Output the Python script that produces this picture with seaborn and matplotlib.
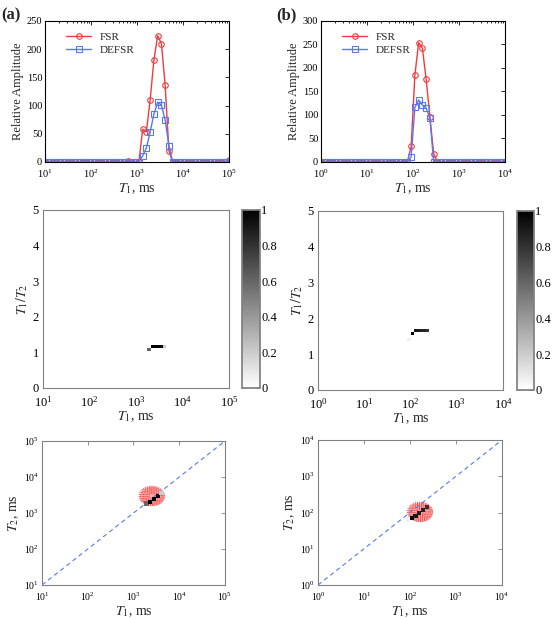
import numpy as np
import pandas as pd
import matplotlib
matplotlib.use('Agg')
import matplotlib.pyplot as plt
from matplotlib.path import Path
from matplotlib.ticker import LogLocator
import seaborn as sns

# T1 sampling grid (50 log-spaced points over 4 decades)
t1_a = np.logspace(1, 5, 50)
t1_b = np.logspace(0, 4, 50)

# 1D T1 distributions (relative amplitude)
fsr_a = [0] * 22 + [2, 0, 0, 0] + [58, 54, 110, 181, 224, 210, 136, 20] + [0] * 15 + [3]
defsr_a = [0] * 26 + [11, 25, 53, 85, 106, 101, 74, 29] + [0] * 16
fsr_b = [0] * 24 + [33, 185, 254, 242, 176, 96, 18] + [0] * 19
defsr_b = [0] * 24 + [11, 116, 132, 121, 115, 93, 0] + [0] * 19

# 2D peaks: T1 (ms), T1/T2 ratio, normalised amplitude
peak_a_t1 = [1930, 2330, 2810, 3400, 4090]
peak_a_ratio = [1.05, 1.16, 1.16, 1.16, 1.16]
peak_a_amp = [0.6, 1.0, 1.0, 0.95, 0.2]
peak_b_t1 = [91, 110, 132, 160, 193, 233]
peak_b_ratio = [1.42, 1.58, 1.67, 1.67, 1.67, 1.67]
peak_b_amp = [0.06, 1.0, 0.9, 0.88, 0.85, 0.8]

# FSR T1-T2 contour blob: centre (T1, T2) in ms
blob_a = (2500, 3000)
blob_b = (165, 105)
ring_sizes = [4, 6, 8, 10, 12, 14, 16, 18]   # ring diameters, points

ratio_grid = np.linspace(0, 5, 61)
cbar_ticks = [0, 0.2, 0.4, 0.6, 0.8, 1]

sns.set_theme(style='white')
plt.rcParams['font.family'] = ['Liberation Serif', 'DejaVu Serif']
plt.rcParams['mathtext.fontset'] = 'stix'

RED = '#f03c3c'
BLUE = '#5a78f0'
GREY = '#808080'

# slightly flattened ellipse marker for the contour rings
theta = np.linspace(0, 2 * np.pi, 60)
ellipse = Path(np.column_stack([1.3 * np.cos(theta), np.sin(theta)]), closed=True)

fig = plt.figure(figsize=(5.53, 6.19), dpi=100)


def style_axes(ax, edge, size=7.5, xpad=4):
    for s in ax.spines.values():
        s.set_color(edge)
        s.set_linewidth(0.8)
    ax.tick_params(which='both', direction='in', top=True, right=True,
                   colors=edge, labelcolor='black', labelsize=size,
                   length=3, width=0.6)
    ax.tick_params(axis='x', which='both', pad=xpad)
    ax.tick_params(axis='y', which='both', pad=2)
    ax.tick_params(which='minor', length=1.5)


def log_ticks(ax, axis='x'):
    loc = LogLocator(base=10, numticks=12)
    mloc = LogLocator(base=10, subs=np.arange(2, 10), numticks=12)
    target = ax.xaxis if axis == 'x' else ax.yaxis
    target.set_major_locator(loc)
    target.set_minor_locator(mloc)


# --- top row: 1D distributions ---
top = [
    ([0.0814, 0.7383, 0.3327, 0.2278], t1_a, fsr_a, defsr_a, (10, 1e5), 250),
    ([0.5805, 0.7383, 0.3327, 0.2278], t1_b, fsr_b, defsr_b, (1, 1e4), 300),
]
for pos, grid, fsr, defsr, xlim, ymax in top:
    ax = fig.add_axes(pos)
    df = pd.DataFrame({'T1': grid, 'FSR': fsr, 'DEFSR': defsr})
    sns.lineplot(data=df, x='T1', y='FSR', ax=ax, color=RED, lw=1,
                 marker='o', markersize=4, markerfacecolor='none',
                 markeredgecolor=RED, markeredgewidth=0.8, label='FSR')
    sns.lineplot(data=df, x='T1', y='DEFSR', ax=ax, color=BLUE, lw=1,
                 marker='s', markersize=4, markerfacecolor='none',
                 markeredgecolor=BLUE, markeredgewidth=0.8, label='DEFSR')
    ax.set_xscale('log')
    log_ticks(ax)
    ax.set_xlim(*xlim)
    ax.set_ylim(0, ymax)
    ax.set_yticks(np.arange(0, ymax + 1, 50))
    ax.set_xlabel('$T_1$, ms', fontsize=10, labelpad=1)
    ax.set_ylabel('Relative Amplitude', fontsize=9, labelpad=2)
    style_axes(ax, 'black')
    ax.legend(loc='upper left', bbox_to_anchor=(0.08, 0.97), frameon=False,
              fontsize=8, handlelength=2.2, borderaxespad=0.2,
              labelspacing=0.3)

# --- middle row: T1/T2 vs T1 maps ---
mid = [
    ([0.0778, 0.3732, 0.3363, 0.2876], [0.4376, 0.3732, 0.0325, 0.2876],
     t1_a, peak_a_t1, peak_a_ratio, peak_a_amp, (10, 1e5)),
    ([0.5750, 0.3700, 0.3345, 0.2892], [0.9349, 0.3700, 0.0307, 0.2892],
     t1_b, peak_b_t1, peak_b_ratio, peak_b_amp, (1, 1e4)),
]
for pos, cpos, grid, p_t1, p_ratio, p_amp, xlim in mid:
    ax = fig.add_axes(pos)
    cax = fig.add_axes(cpos)
    img = np.zeros((len(ratio_grid), len(grid)))
    for t, r, a in zip(p_t1, p_ratio, p_amp):
        i = np.argmin(np.abs(np.log10(grid) - np.log10(t)))
        j = np.argmin(np.abs(ratio_grid - r))
        img[j, i] = a
    mesh = ax.pcolormesh(grid, ratio_grid, img, cmap='gray_r', vmin=0, vmax=1,
                         shading='nearest')
    ax.set_xscale('log')
    log_ticks(ax)
    ax.set_xlim(*xlim)
    ax.set_ylim(0, 5)
    ax.set_yticks(range(6))
    ax.set_xlabel('$T_1$, ms', fontsize=10, labelpad=0)
    ax.set_ylabel('$T_1/T_2$', fontsize=10, labelpad=2)
    style_axes(ax, GREY, size=9, xpad=5)
    ax.tick_params(axis='y', which='both', pad=3)
    ax.tick_params(axis='y', which='minor', left=False, right=False)
    cb = fig.colorbar(mesh, cax=cax, ticks=cbar_ticks)
    cb.ax.set_yticklabels(['0', '0.2', '0.4', '0.6', '0.8', '1'])
    cb.outline.set_edgecolor(GREY)
    cb.ax.tick_params(direction='in', length=3, colors=GREY, labelcolor='black',
                      labelsize=9, pad=1, left=True, right=True)

# --- bottom row: T2 vs T1 maps ---
bot = [
    ([0.0759, 0.0549, 0.3309, 0.2326], peak_a_t1, peak_a_ratio, peak_a_amp,
     blob_a, (10, 1e5)),
    ([0.5750, 0.0549, 0.3327, 0.2342], peak_b_t1, peak_b_ratio, peak_b_amp,
     blob_b, (1, 1e4)),
]
for pos, p_t1, p_ratio, p_amp, blob, lim in bot:
    ax = fig.add_axes(pos)
    ax.set_xscale('log')
    ax.set_yscale('log')
    rings = pd.DataFrame({'T1': [blob[0]] * len(ring_sizes),
                          'T2': [blob[1]] * len(ring_sizes),
                          'size': [d ** 2 for d in ring_sizes]})
    # pale fill under the rings
    ax.scatter([blob[0]], [blob[1]], s=max(ring_sizes) ** 2, marker=ellipse,
               color='#ffb0b0', linewidths=0, zorder=1)
    ax.scatter(rings['T1'], rings['T2'], s=rings['size'], marker=ellipse,
               facecolors='none', edgecolors=RED, linewidths=0.7,
               linestyle=(0, (1, 1)), zorder=2)
    sns.lineplot(x=list(lim), y=list(lim), ax=ax, color=BLUE, lw=0.8,
                 linestyle=(0, (4, 3)), zorder=3)
    pk = pd.DataFrame({'T1': p_t1, 'T2': np.array(p_t1) / np.array(p_ratio),
                       'amp': p_amp})
    sns.scatterplot(data=pk, x='T1', y='T2', hue='amp', palette='gray_r',
                    hue_norm=(0, 1), marker='s', s=9, linewidth=0,
                    legend=False, ax=ax, zorder=4)
    log_ticks(ax, 'x')
    log_ticks(ax, 'y')
    ax.set_xlim(*lim)
    ax.set_ylim(*lim)
    ax.set_xlabel('$T_1$, ms', fontsize=10, labelpad=1)
    ax.set_ylabel('$T_2$, ms', fontsize=10, labelpad=2)
    style_axes(ax, GREY, size=7)
    ax.minorticks_off()

fig.text(0.003, 0.975, '(a)', fontsize=12, fontweight='bold', va='center')
fig.text(0.500, 0.975, '(b)', fontsize=12, fontweight='bold', va='center')

fig.savefig('out.png', dpi=100)
